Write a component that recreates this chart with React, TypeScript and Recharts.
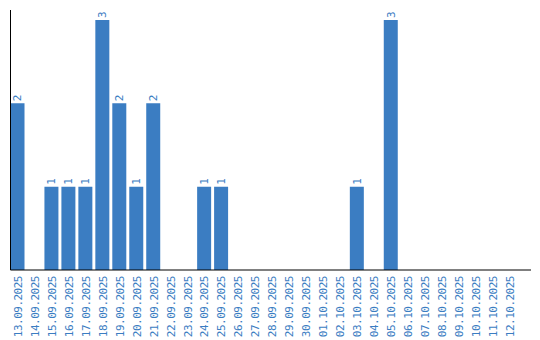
import React from 'react';
import { BarChart, Bar, XAxis, YAxis, LabelList } from 'recharts';

const dates = [
  '13.09.2025', '14.09.2025', '15.09.2025', '16.09.2025', '17.09.2025', '18.09.2025',
  '19.09.2025', '20.09.2025', '21.09.2025', '22.09.2025', '23.09.2025', '24.09.2025',
  '25.09.2025', '26.09.2025', '27.09.2025', '28.09.2025', '29.09.2025', '30.09.2025',
  '01.10.2025', '02.10.2025', '03.10.2025', '04.10.2025', '05.10.2025', '06.10.2025',
  '07.10.2025', '08.10.2025', '09.10.2025', '10.10.2025', '11.10.2025', '12.10.2025',
];
const counts = [2, 0, 1, 1, 1, 3, 2, 1, 2, 0, 0, 1, 1, 0, 0, 0, 0, 0, 0, 0, 1, 0, 3, 0, 0, 0, 0, 0, 0, 0];

const data = dates.map((d, i) => ({ date: d, value: counts[i] }));

const BLUE = '#3b7dc2';
const FONT = '"DejaVu Sans Mono", monospace';

const Tick = (props: any) => {
  const { x, y, payload } = props;
  return (
    <g transform={`translate(${x},${y})`}>
      <text transform="rotate(-90)" textAnchor="end" dy="0.35em" fill={BLUE} fontSize={11} letterSpacing={-0.5} fontFamily={FONT}>
        {payload.value}
      </text>
    </g>
  );
};

const ValueLabel = (props: any) => {
  const { x, y, width, value } = props;
  if (!value) return null;
  const cx = x + width / 2;
  return (
    <g transform={`translate(${cx},${y - 2})`}>
      <text transform="rotate(-90)" textAnchor="start" dy="0.35em" fill={BLUE} fontSize={11} fontFamily={FONT}>
        {value}
      </text>
    </g>
  );
};

export default function App() {
  return (
    <div style={{ position: 'absolute', left: 0, top: 0, background: '#fff' }}>
      <BarChart width={540} height={340} data={data} margin={{ top: 10, right: 9, left: 9.5, bottom: 0 }}>
        <XAxis
          dataKey="date"
          interval={0}
          height={70}
          tickLine={false}
          tickSize={6}
          tickMargin={0}
          axisLine={{ stroke: '#000' }}
          padding={{ left: -1, right: 12.5 }}
          tick={<Tick />}
        />
        <YAxis width={1} tick={false} tickLine={false} domain={[0, 3.12]} axisLine={{ stroke: '#000' }} />
        <Bar dataKey="value" fill={BLUE} barSize={14} isAnimationActive={false}>
          <LabelList dataKey="value" content={<ValueLabel />} />
        </Bar>
      </BarChart>
    </div>
  );
}
